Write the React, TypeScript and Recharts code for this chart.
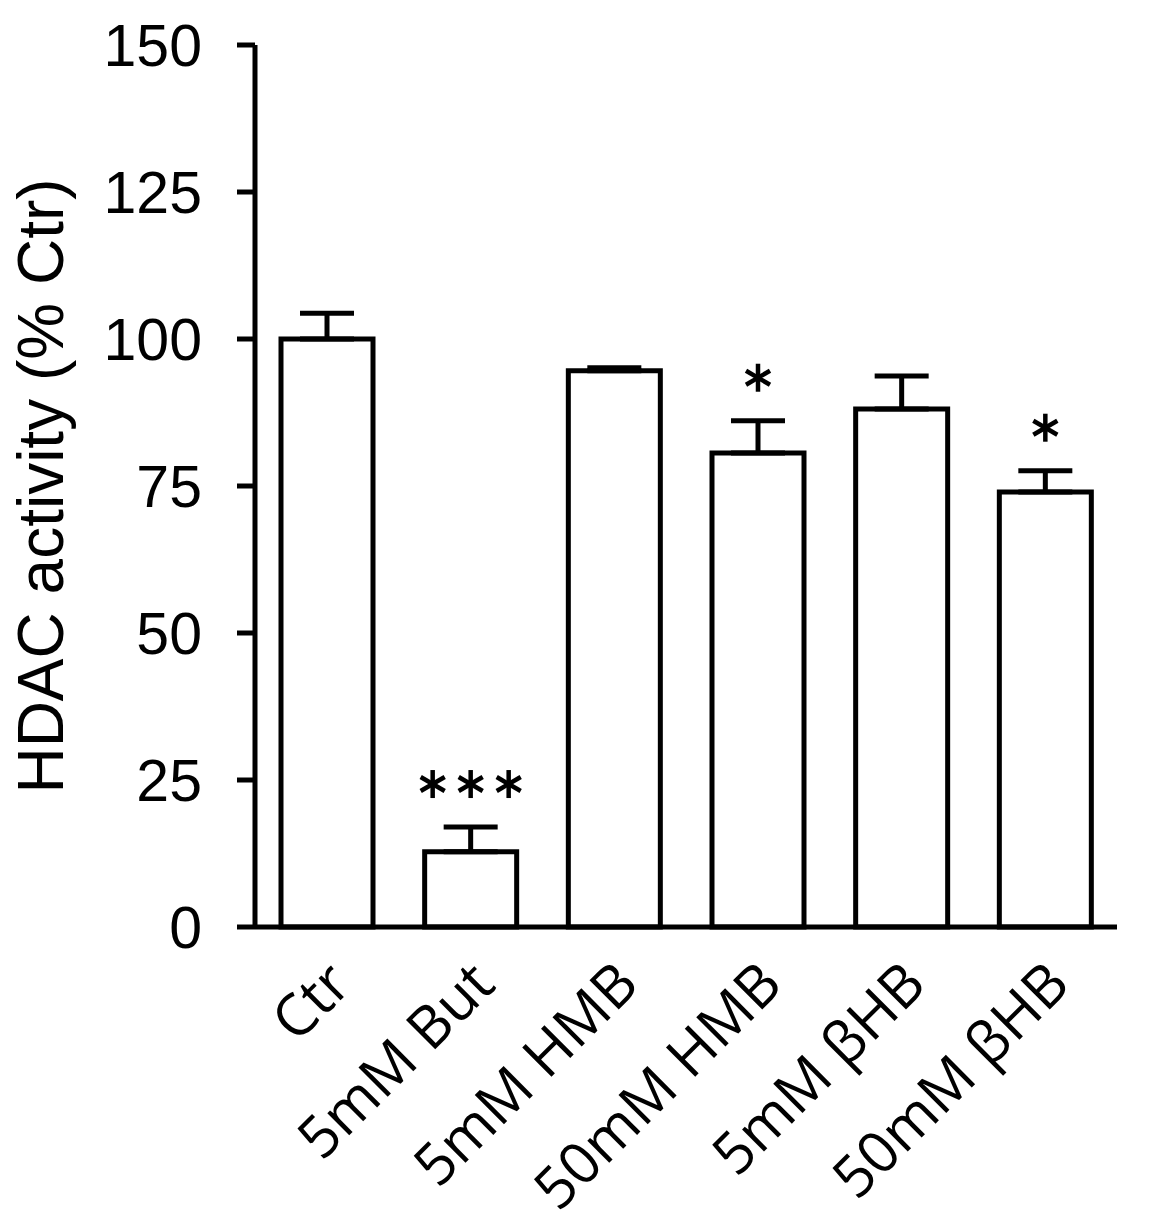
import React from "react";
import { BarChart, Bar, XAxis, YAxis, ErrorBar, LabelList } from "recharts";

const groups = ["Ctr", "5mM But", "5mM HMB", "50mM HMB", "5mM βHB", "50mM βHB"];
const activity = [100, 12.8, 94.6, 80.6, 88.1, 74.0];
const sem = [4.4, 4.2, 0.5, 5.5, 5.6, 3.6];
const stars = ["", "***", "", "*", "", "*"];
const yTicks = [0, 25, 50, 75, 100, 125, 150];

const data = groups.map((name, i) => ({
  name,
  value: activity[i],
  err: [0, sem[i]],
  errUp: sem[i],
  sig: stars[i],
}));

const XTick = ({ x, y, payload }) => (
  <text
    x={x + 27}
    y={y + 60}
    transform={`rotate(-45, ${x + 27}, ${y + 60})`}
    textAnchor="end"
    fontFamily="Open Sans"
    fontSize={58}
    fill="#000"
  >
    {payload.value}
  </text>
);

// asterisks drawn above the error cap
const Stars = ({ x, y, width, height, value, index }) => {
  if (!value) return null;
  const d = data[index];
  const pxPerUnit = height / d.value;
  const cy = y - d.errUp * pxPerUnit - 43;
  const cx = x + width / 2;
  const n = value.length;
  return (
    <g stroke="#000" strokeWidth={4.5}>
      {Array.from({ length: n }).map((_, k) => {
        const sx = cx + (k - (n - 1) / 2) * 38;
        return (
          <g key={k}>
            <line x1={sx} y1={cy - 14} x2={sx} y2={cy + 14} />
            <line x1={sx - 12} y1={cy - 7} x2={sx + 12} y2={cy + 7} />
            <line x1={sx - 12} y1={cy + 7} x2={sx + 12} y2={cy - 7} />
          </g>
        );
      })}
    </g>
  );
};

const YLabel = ({ viewBox }) => {
  const x = viewBox.x + 63;
  const y = viewBox.y + viewBox.height / 2;
  return (
    <text
      x={x}
      y={y}
      transform={`rotate(-90, ${x}, ${y})`}
      textAnchor="middle"
      fontFamily="'Liberation Sans', Arial, sans-serif"
      fontSize={64}
      fill="#000"
    >
      HDAC activity (% Ctr)
    </text>
  );
};

export default function App() {
  return (
    <div style={{ position: "absolute", left: 0, top: 0, background: "#fff" }}>
      <BarChart
        width={1153}
        height={1224}
        data={data}
        margin={{ top: 45, right: 36, bottom: 0, left: 0 }}
      >
        <XAxis
          dataKey="name"
          height={297}
          interval={0}
          tickLine={false}
          tickSize={0}
          tickMargin={0}
          axisLine={{ stroke: "#000", strokeWidth: 5 }}
          tick={<XTick />}
        />
        <YAxis
          width={255}
          domain={[0, 150]}
          ticks={yTicks}
          interval={0}
          tickSize={18}
          tickMargin={35}
          axisLine={{ stroke: "#000", strokeWidth: 5 }}
          tickLine={{ stroke: "#000", strokeWidth: 5 }}
          tick={{ fill: "#000", fontSize: 59, fontFamily: "'Liberation Sans', Arial, sans-serif" }}
          label={<YLabel />}
        />
        <Bar
          dataKey="value"
          fill="#fff"
          stroke="#000"
          strokeWidth={5}
          barSize={92}
          isAnimationActive={false}
        >
          <ErrorBar dataKey="err" direction="y" width={27} stroke="#000" strokeWidth={5} />
          <LabelList dataKey="sig" content={<Stars />} />
        </Bar>
      </BarChart>
    </div>
  );
}
